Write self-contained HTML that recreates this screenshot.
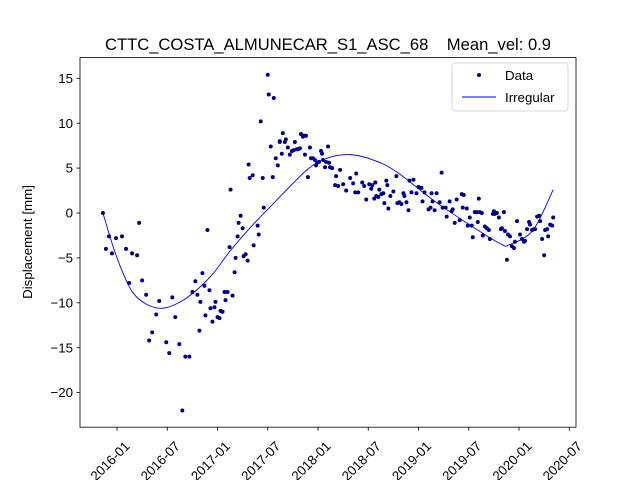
<!DOCTYPE html>
<html><head><meta charset="utf-8"><style>
html,body{margin:0;padding:0;background:#fff;}
svg{display:block;font-family:"Liberation Sans","DejaVu Sans",sans-serif;}
</style></head><body>
<svg id="chart" width="640" height="480" viewBox="0 0 640 480" xmlns="http://www.w3.org/2000/svg">
<rect x="0" y="0" width="640" height="480" fill="#fff"/>
<text x="328" y="50" text-anchor="middle" font-size="16.6" fill="#000" xml:space="preserve">CTTC_COSTA_ALMUNECAR_S1_ASC_68    Mean_vel: 0.9</text>
<text transform="translate(32,242) rotate(-90)" text-anchor="middle" font-size="13.3" fill="#000">Displacement [mm]</text>
<g id="marks"></g>
<rect x="80" y="57.6" width="496" height="369.6" fill="none" stroke="#000" stroke-width="0.8"/>
<g id="axes"></g>
<g>
<rect x="452" y="63" width="116" height="48" rx="3" fill="#fff" fill-opacity="0.8" stroke="#ccc" stroke-width="0.8"/>
<circle cx="479" cy="75" r="2" fill="#00008b"/>
<text x="505" y="80" font-size="13.3">Data</text>
<line x1="462" y1="97" x2="496" y2="97" stroke="#0000ff" stroke-width="0.9"/>
<text x="505" y="102" font-size="13.3">Irregular</text>
</g>
</svg>
<script>
const dataYears=[2015.86,2015.89,2015.92,2015.95,2015.99,2016.05,2016.09,2016.15,2016.20,2016.22,2016.12,2016.25,2016.29,2016.32,2016.35,2016.39,2016.42,2016.49,2016.52,2016.55,2016.58,2016.62,2016.65,2016.68,2016.72,2016.75,2016.78,2016.80,2016.82,2016.83,2016.85,2016.87,2016.88,2016.90,2016.92,2016.93,2016.95,2016.97,2016.98,2017.00,2017.02,2017.03,2017.05,2017.07,2017.08,2017.10,2017.12,2017.13,2017.15,2017.17,2017.18,2017.20,2017.21,2017.23,2017.25,2017.26,2017.28,2017.30,2017.31,2017.32,
2017.50,2017.51,2017.56,2017.43,2017.53,2017.35,2017.45,2017.55,2017.58,2017.60,2017.62,2017.62,2017.64,2017.65,2017.67,2017.68,2017.70,2017.72,2017.74,2017.76,2017.77,2017.79,2017.80,2017.82,2017.83,2017.85,2017.86,2017.88,2017.87,2017.90,2017.92,2017.93,2017.95,2017.97,2017.98,2017.99,2018.01,2018.03,2018.04,2018.05,2018.07,2018.08,2018.10,2018.11,2018.12,2018.14,2018.18,2018.17,2018.20,2018.22,2018.25,2018.28,2018.32,2018.35,2018.37,2018.38,2018.40,2018.44,2018.46,2018.48,2018.51,2018.53,2018.54,2018.56,2018.57,2018.58,2018.60,2018.61,2018.63,2018.65,2018.66,2018.68,2018.69,2018.70,2018.72,2018.75,2018.78,2018.79,2018.81,2018.83,2018.85,2018.86,2018.88,2018.90,2018.91,2017.40,2017.41,2017.36,2017.46,
2018.95,2018.93,2018.98,2019.00,2019.03,2019.04,2019.06,2019.10,2019.12,2019.13,2019.14,2019.16,2019.18,2019.21,2019.23,2019.24,2019.27,2019.28,2019.31,2019.33,2019.34,2019.36,2019.38,2019.41,2019.43,2019.45,2019.44,2019.48,2019.49,2019.51,2019.53,2019.54,2019.56,2019.58,2019.59,2019.60,2019.61,2019.63,2019.64,2019.66,2019.68,2019.70,2019.71,2019.74,2019.75,2019.76,2019.77,2019.78,2019.80,2019.82,2019.83,2019.85,2019.86,2019.89,2019.88,2019.91,2019.93,2019.95,2019.96,2019.98,2020.01,2020.03,2020.05,2020.06,2020.08,2020.10,2020.11,2020.13,2020.15,2020.16,2020.18,2020.20,2020.21,2020.23,2020.25,2020.26,2020.28,2020.29,2020.31,2020.33,2020.34];
const dataValues=[0.0,-4.0,-2.6,-4.5,-2.8,-2.6,-4.0,-4.5,-4.7,-1.1,-7.8,-7.5,-9.1,-14.2,-13.3,-11.3,-9.8,-14.4,-15.6,-9.4,-11.6,-14.6,-22.0,-16.0,-16.0,-8.8,-7.6,-9.1,-13.1,-9.9,-6.7,-8.1,-11.4,-1.9,-8.6,-10.6,-12.1,-10.5,-9.9,-11.6,-11.7,-10.9,-11.0,-8.8,-9.7,-8.8,-3.8,2.6,-9.2,-6.6,-5.0,-2.6,-1.1,-0.3,-1.7,-4.8,-4.6,-5.3,5.4,3.9,
15.4,13.2,12.8,10.2,7.4,4.2,3.9,4.0,6.1,5.3,7.9,8.0,6.6,8.9,7.9,8.2,7.3,6.5,6.9,7.0,7.9,7.1,7.1,7.2,8.8,8.5,8.6,8.6,6.5,4.0,7.3,6.1,6.1,5.9,5.3,5.6,5.7,6.9,6.6,5.9,5.1,5.7,7.4,5.6,5.1,5.0,4.1,3.1,3.0,4.8,3.2,2.5,3.9,3.3,2.3,4.4,2.3,3.4,3.0,1.5,3.2,2.7,3.1,1.6,3.4,1.9,1.8,2.6,2.1,2.2,1.1,3.6,3.1,0.5,1.9,2.4,4.1,1.1,1.2,1.0,2.2,1.9,1.2,0.3,3.6,-1.4,-2.4,-3.6,0.6,
3.7,2.3,2.2,2.9,2.8,1.3,2.3,0.4,0.6,2.2,1.3,0.3,2.2,1.2,4.5,0.6,0.6,-0.4,1.3,0.2,0.4,-1.1,1.5,-0.8,2.1,2.0,0.6,0.5,-1.4,-0.5,-1.4,-2.7,0.1,0.1,-1.0,1.6,0.1,0.0,-2.5,-1.5,-1.7,-1.9,-2.9,-0.1,0.2,-0.1,0.0,0.0,-0.5,-1.8,-1.7,0.1,-2.0,-2.4,-5.2,-2.6,-3.7,-3.9,-3.2,-0.9,-2.4,-2.9,-3.2,-3.1,-1.8,-1.0,-1.3,-1.9,-1.8,-1.8,-0.4,-0.3,-0.9,-2.9,-4.7,-1.9,-1.8,-2.6,-1.3,-1.4,-0.5];
const curveYears=[2015.86,2015.96,2016.06,2016.16,2016.30,2016.46,2016.63,2016.79,2016.96,2017.12,2017.32,2017.56,2017.89,2018.09,2018.32,2018.55,2018.78,2019.15,2019.48,2019.81,2019.91,2020.14,2020.34];
const curveValues=[0.0,-3.7,-6.7,-8.9,-10.2,-10.6,-9.9,-8.6,-6.7,-4.3,-1.7,1.1,4.8,6.1,6.5,5.9,4.6,1.4,-1.1,-3.4,-3.5,-1.9,2.6];
const yTicks=[15,10,5,0,-5,-10,-15,-20];
const yTickLabels=["15","10","5","0","\u22125","\u221210","\u221215","\u221220"];
const xTicks=[2016,2016.5,2017,2017.5,2018,2018.5,2019,2019.5,2020,2020.5];
const xTickLabels=["2016-01","2016-07","2017-01","2017-07","2018-01","2018-07","2019-01","2019-07","2020-01","2020-07"];

const NS="http://www.w3.org/2000/svg";
function xs(t){return 117+(t-2016)*100.5;}
function ys(v){return 213-v*8.98;}
const marks=document.getElementById('marks');
const axes=document.getElementById('axes');
function mk(tag,attrs,parent){const e=document.createElementNS(NS,tag);for(const k in attrs)e.setAttribute(k,attrs[k]);parent.appendChild(e);return e;}

let pts=curveYears.map((t,i)=>[xs(t),ys(curveValues[i])]);
let d="M"+pts[0][0]+","+pts[0][1];
for(let i=0;i<pts.length-1;i++){
  const p0=pts[Math.max(0,i-1)],p1=pts[i],p2=pts[i+1],p3=pts[Math.min(pts.length-1,i+2)];
  const c1=[p1[0]+(p2[0]-p0[0])/6,p1[1]+(p2[1]-p0[1])/6];
  const c2=[p2[0]-(p3[0]-p1[0])/6,p2[1]-(p3[1]-p1[1])/6];
  d+=" C"+c1[0]+","+c1[1]+" "+c2[0]+","+c2[1]+" "+p2[0]+","+p2[1];
}
const path=mk('path',{d:d,fill:'none',stroke:'#0000ff','stroke-width':0.9},marks);



dataYears.forEach((t,i)=>{
  const c=mk('circle',{cx:xs(t),cy:ys(dataValues[i]),r:2,fill:'#00008b'},marks);
  
  
});

yTicks.forEach((v,i)=>{
  const y=ys(v);
  const l=mk('line',{x1:76.5,y1:y,x2:80,y2:y,stroke:'#000','stroke-width':0.8},axes);
  
  
  const tx=mk('text',{x:73,y:y+4.6,'text-anchor':'end','font-size':13.3},axes);
  tx.textContent=yTickLabels[i];
  
  
});
xTicks.forEach((t,i)=>{
  const x=xs(t);
  const l=mk('line',{x1:x,y1:427.2,x2:x,y2:430.7,stroke:'#000','stroke-width':0.8},axes);
  
  
  const tx=mk('text',{x:0,y:4.6,'text-anchor':'middle','font-size':13.3,transform:'translate('+(x-7)+',461) rotate(-45)'},axes);
  tx.textContent=xTickLabels[i];
  
  
});
</script>
</body></html>
